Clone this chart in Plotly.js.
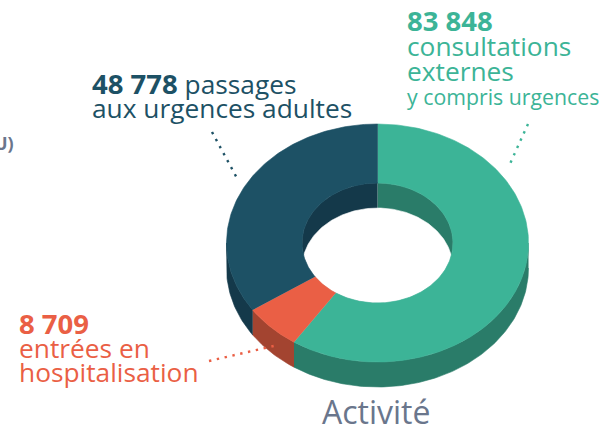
<!DOCTYPE html>
<html><head><meta charset="utf-8">
<script src="https://cdn.plot.ly/plotly-3.0.1.min.js"></script>
<style>html,body{margin:0;padding:0;background:#fff}#c{width:604px;height:428px}</style></head>
<body><div id="c"></div>
<script>
// Data
const categories = ["consultations externes", "entrées en hospitalisation", "passages aux urgences adultes"];
const values = [83848, 8709, 48778];
const faceColors = ["#3cb497", "#ea5f45", "#1d5165"];
const wallColors = ["#2a7c69", "#a34430", "#14394a"];

// Projected donut geometry, in the pixel-sized axis units
const cx = 377.5, cy = 243, rx = 151, ry = 119, hx = 75.5, hy = 60, depth = 25;
const total = values.reduce((a, b) => a + b, 0);
const pt = (deg, a, b, dy) => {
  const t = deg * Math.PI / 180;
  return [cx + a * Math.sin(t), cy + dy - b * Math.cos(t)];
};
const arc = (from, to, a, b, dy) => {
  const out = [], n = Math.max(2, Math.ceil(Math.abs(to - from)));
  for (let i = 0; i <= n; i++) out.push(pt(from + (to - from) * i / n, a, b, dy));
  return out;
};
const poly = (pts, color, name) => ({
  type: "scatter", mode: "lines", x: pts.map(p => p[0]), y: pts.map(p => p[1]),
  fill: "toself", fillcolor: color, line: {width: 0.6, color: color}, name: name, hoverinfo: "name", showlegend: false
});

const traces = [];
let cum = 0;
const spans = values.map(v => { const s = cum; cum += v / total * 360; return [s, cum]; });
// outer wall, only the front half is visible
spans.forEach((s, i) => {
  const a = Math.max(s[0], 90), b = Math.min(s[1], 270);
  if (b > a) traces.push(poly([...arc(a, b, rx, ry, 0), ...arc(b, a, rx, ry, depth)], wallColors[i], categories[i]));
});
// inner wall seen through the hole: back half, split where the slices meet at the top
traces.push(poly(arc(0, 180, hx, hy, 0), wallColors[0], categories[0]));
traces.push(poly(arc(180, 360, hx, hy, 0), wallColors[2], categories[2]));
// opening: intersection of the hole ellipse with the same ellipse lowered by the depth
const meet = Math.acos(-(depth / 2) / hy) * 180 / Math.PI;
traces.push(poly([...arc(-meet, meet, hx, hy, depth), ...arc(meet, 360 - meet, hx, hy, 0)], "#ffffff", "hole"));
// top face
spans.forEach((s, i) => {
  traces.push(poly([...arc(s[0], s[1], rx, ry, 0), ...arc(s[1], s[0], hx, hy, 0)], faceColors[i], categories[i]));
});

const fmt = v => String(v).replace(/\B(?=(\d{3})+$)/g, " ");
const label = (text, x, y, size, color, anchor) => ({
  text: text, x: x, y: y, xref: "x", yref: "y", xanchor: anchor || "left", yanchor: "middle",
  showarrow: false, align: "left", font: {family: "'Open Sans', sans-serif", size: size, color: color}
});
const grey = "#6a768c";
const annotations = [
  label("<b>" + fmt(values[0]) + "</b>", 405, 20, 27.5, faceColors[0]),
  label("consultations", 405, 46, 26.3, faceColors[0]),
  label("externes", 405, 71, 26.3, faceColors[0]),
  label("y compris urgences", 405, 96, 21.3, faceColors[0]),
  label("<b style='font-size:27.5px'>" + fmt(values[2]) + "</b> passages", 90, 83, 26.3, faceColors[2]),
  label("aux urgences adultes", 90, 108, 26.3, faceColors[2]),
  label("<b>" + fmt(values[1]) + "</b>", 17, 323, 27.5, faceColors[1]),
  label("entrées en", 17, 348, 26.3, faceColors[1]),
  label("hospitalisation", 17, 372, 26.3, faceColors[1]),
  label("Activité", 320, 411, 32, grey),
  label("<b>U)</b>", 16, 143, 18, grey, "right")
];
const leader = (x0, y0, x1, y1, color) => ({
  type: "line", xref: "x", yref: "y", x0: x0, y0: y0, x1: x1, y1: y1, layer: "above",
  line: {color: color, width: 2.4, dash: "2.4px,5.6px"}
});
const shapes = [
  leader(212, 132, 238, 180, faceColors[2]),
  leader(528, 124, 509, 166, faceColors[0]),
  leader(209, 361, 278, 345, faceColors[1])
];
const hidden = {visible: false, fixedrange: true};
Plotly.newPlot("c", traces, {
  width: 604, height: 428, margin: {l: 0, r: 0, t: 0, b: 0},
  paper_bgcolor: "#fff", plot_bgcolor: "#fff", showlegend: false,
  xaxis: Object.assign({range: [0, 604]}, hidden),
  yaxis: Object.assign({range: [428, 0]}, hidden),
  annotations: annotations, shapes: shapes
}, {displayModeBar: false, staticPlot: true});
</script></body></html>
